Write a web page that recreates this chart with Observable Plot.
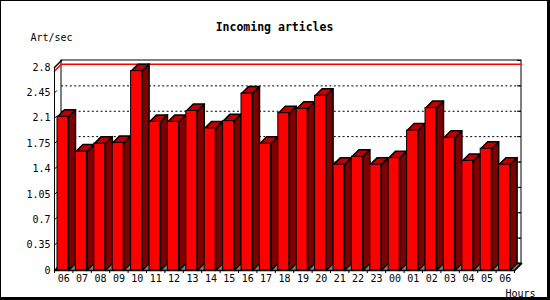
<!DOCTYPE html>
<html><head><meta charset="utf-8">
<script src="https://cdn.jsdelivr.net/npm/d3@7"></script>
<script src="https://cdn.jsdelivr.net/npm/@observablehq/plot@0.6"></script>
<style>
body{margin:0;background:#fff}
#wrap{position:relative;width:550px;height:300px;overflow:hidden;background:#fff}
#wrap svg{position:absolute;left:0;top:0}
#border{position:absolute;left:0;top:0;width:550px;height:300px;box-sizing:border-box;border-style:solid;border-color:#000;border-width:1px 3px 3px 1px;pointer-events:none}
</style></head><body>
<div id="wrap"><div id="border"></div></div>
<script>
const hours = ["06","07","08","09","10","11","12","13","14","15","16","17","18","19","20","21","22","23","00","01","02","03","04","05","06"];
const values = [2.12,1.64,1.75,1.76,2.75,2.05,2.05,2.20,1.96,2.06,2.44,1.75,2.17,2.23,2.41,1.46,1.57,1.46,1.55,1.93,2.24,1.83,1.51,1.68,1.46];
const yTicks = [0,0.35,0.7,1.05,1.4,1.75,2.1,2.45,2.8];
const titleText = "Incoming articles";
const yLabel = "Art/sec";
const xLabel = "Hours";

const W = 550, H = 300, mL = 54, mR = 36, mT = 67, mB = 30;
const n = hours.length;
const yMax = yTicks[yTicks.length - 1];
const ux = n / (W - mL - mR);      // data units per pixel (x)
const uy = yMax / (H - mT - mB);   // data units per pixel (y)
const D = 7;                        // 3D depth in px
const ddx = D * ux, ddy = D * uy;
const maxV = d3.max(values);

const bars = values.map((v, i) => ({i, v, xl: i + 3 * ux, xr: i + 14 * ux}));
const poly = (id, pts) => pts.map(([x, y]) => ({id, x, y}));
const tops = bars.flatMap(b => poly(b.i, [[b.xl, b.v], [b.xr, b.v], [b.xr + ddx, b.v + ddy], [b.xl + ddx, b.v + ddy]]));
const sides = bars.flatMap(b => poly(b.i, [[b.xr, b.v], [b.xr + ddx, b.v + ddy], [b.xr + ddx, ddy], [b.xr, 0]]));
const floor = poly(0, [[0, 0], [n, 0], [n + ddx, ddy], [ddx, ddy]]);
const redLine = poly(0, [[0, maxV], [ddx, maxV + ddy], [n + ddx, maxV + ddy]]);
const cornerTL = poly(0, [[0, yMax], [ddx, yMax + ddy]]);
const cornerBR = poly(0, [[n, 0], [n + ddx, ddy]]);

const chart = Plot.plot({
  width: W, height: H,
  marginLeft: mL, marginRight: mR, marginTop: mT, marginBottom: mB,
  x: {type: "linear", domain: [0, n]},
  y: {type: "linear", domain: [0, yMax]},
  style: {fontFamily: "DejaVu Sans Mono", fontSize: "10px", background: "white", overflow: "visible"},
  marks: [
    // back wall
    Plot.rect([0], {x1: 0, x2: n, y1: 0, y2: yMax, dx: D, dy: -D, fill: "white", stroke: "black"}),
    // dotted grid on back wall
    Plot.ruleY(yTicks.filter(t => t > 0 && t < yMax), {x1: 0, x2: n, dx: D, dy: -D, stroke: "black", strokeDasharray: "2,2.4"}),
    // right edge ticks
    Plot.ruleY(yTicks, {x1: n - 4 * ux, x2: n, dx: D, dy: -D, stroke: "black"}),
    // max line
    Plot.line(redLine, {x: "x", y: "y", stroke: "red"}),
    Plot.line(cornerTL, {x: "x", y: "y", stroke: "black"}),
    // floor
    Plot.line(floor, {x: "x", y: "y", fill: "#808080", stroke: "black", curve: "linear-closed"}),
    Plot.line(cornerBR, {x: "x", y: "y", stroke: "black"}),
    // bars
    Plot.line(sides, {x: "x", y: "y", z: "id", fill: "#800000", stroke: "black", curve: "linear-closed"}),
    Plot.line(tops, {x: "x", y: "y", z: "id", fill: "#c00000", stroke: "black", curve: "linear-closed"}),
    Plot.rect(bars, {x1: "xl", x2: "xr", y1: 0, y2: "v", fill: "#ff0000", stroke: "black"}),
    // front axes
    Plot.ruleX([0], {y1: 0, y2: yMax, stroke: "black"}),
    Plot.ruleY([0], {x1: 0, x2: n, stroke: "black"}),
    Plot.link(yTicks, {x1: 0, y1: d => d, x2: 2.5 * ux, y2: d => d + 2.5 * uy, stroke: "black"}),
    Plot.axisY(yTicks, {tickSize: 0, tickPadding: 4, tickFormat: d => String(d), label: null, fill: "black"}),
    Plot.axisX(d3.range(n + 1), {tickSize: 3, tickFormat: () => "", label: null}),
    Plot.axisX(d3.range(n).map(i => i + 0.5), {tickSize: 0, tickPadding: 4, tickFormat: d => hours[Math.floor(d)], label: null, fill: "black"}),
    // texts
    Plot.text([titleText], {text: d => d, frameAnchor: "top", lineAnchor: "middle", dx: -10, dy: -40, fontWeight: "bold", fontSize: 11.5, fill: "black"}),
    Plot.text([yLabel], {text: d => d, frameAnchor: "top-left", textAnchor: "start", lineAnchor: "middle", dx: -24, dy: -30, fill: "black"}),
    Plot.text([xLabel], {text: d => d, frameAnchor: "bottom-right", textAnchor: "start", lineAnchor: "middle", dx: -9, dy: 23, fill: "black"})
  ]
});
document.getElementById("wrap").insertBefore(chart, document.getElementById("border"));
</script>
</body></html>
